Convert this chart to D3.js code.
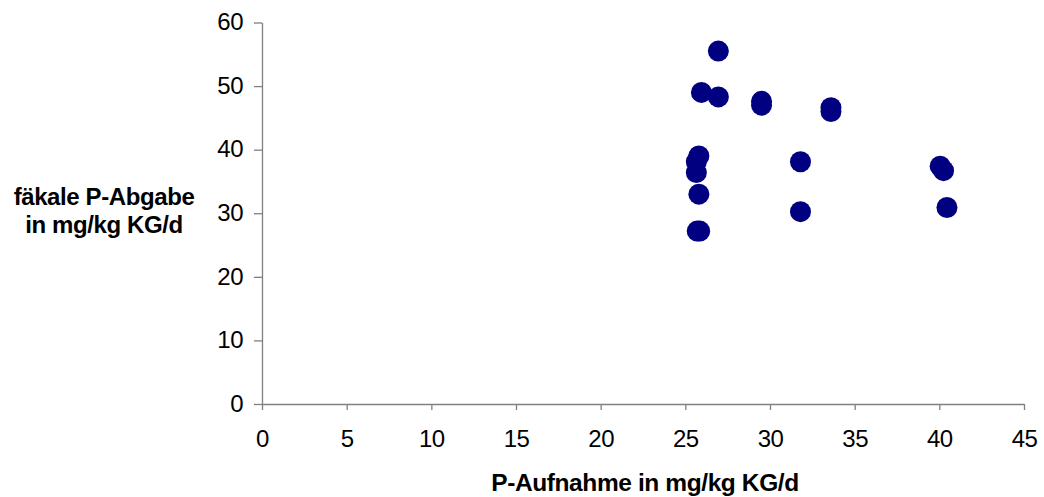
<!DOCTYPE html>
<html>
<head>
<meta charset="utf-8">
<script src="https://cdn.jsdelivr.net/npm/d3@7"></script>
<style>
  html, body { margin: 0; padding: 0; background: #fff; }
  svg { display: block; font-family: "Liberation Sans", Arial, sans-serif; }
  .tick text { font-size: 24px; fill: #000; letter-spacing: -0.5px; }
  .domain, .tick line { stroke: #808080; stroke-width: 1.3; }
  .title { font-weight: bold; fill: #000; letter-spacing: -0.4px; }
</style>
</head>
<body>
<svg id="chart" width="1044" height="497"></svg>
<script>
// P intake (mg/kg body weight per day) and faecal P excretion for each animal
const pIntake = [26.95, 25.95, 26.95, 29.5, 29.5, 33.6, 33.6, 25.8, 25.65, 25.65, 25.8, 25.7, 25.85, 31.8, 31.8, 40.05, 40.25, 40.45];
const pFaecal = [55.5, 49.0, 48.3, 47.6, 47.0, 46.6, 46.0, 39.0, 38.1, 36.4, 33.0, 27.2, 27.2, 38.1, 30.25, 37.4, 36.7, 30.9];

const xTicks = [0, 5, 10, 15, 20, 25, 30, 35, 40, 45];
const yTicks = [0, 10, 20, 30, 40, 50, 60];

const xTitle = "P-Aufnahme in mg/kg KG/d";
const yTitleLines = ["fäkale P-Abgabe", "in mg/kg KG/d"];

const svg = d3.select("#chart");

const x = d3.scaleLinear().domain([0, 45]).range([262, 1024]);
const y = d3.scaleLinear().domain([0, 60]).range([404, 22.5]);

// x axis
svg.append("g")
  .attr("transform", `translate(0,${y(0)})`)
  .call(d3.axisBottom(x).tickValues(xTicks).tickSize(6).tickSizeOuter(0).tickPadding(20))
  .call(g => g.selectAll(".tick text").attr("dy", "0.71em"));

// y axis
svg.append("g")
  .attr("transform", `translate(${x(0)},0)`)
  .call(d3.axisLeft(y).tickValues(yTicks).tickSize(8).tickSizeOuter(0).tickPadding(11))
  .call(g => g.selectAll(".tick text").attr("dy", "0.3em"));

svg.selectAll(".tick text").attr("font-family", null).attr("font-size", null);

// data points
const pts = pIntake.map((v, i) => ({ x: v, y: pFaecal[i] }));
svg.append("g")
  .selectAll("circle")
  .data(pts)
  .join("circle")
  .attr("cx", d => x(d.x))
  .attr("cy", d => y(d.y))
  .attr("r", 10.5)
  .attr("fill", "#000080");

// axis titles
svg.append("text")
  .attr("class", "title")
  .attr("x", 645)
  .attr("y", 491)
  .attr("text-anchor", "middle")
  .attr("font-size", 24.5)
  .text(xTitle);

svg.append("text")
  .attr("class", "title")
  .attr("text-anchor", "middle")
  .attr("font-size", 24)
  .selectAll("tspan")
  .data(yTitleLines)
  .join("tspan")
  .attr("x", 104)
  .attr("y", (d, i) => 205 + i * 28)
  .text(d => d);
</script>
</body>
</html>
